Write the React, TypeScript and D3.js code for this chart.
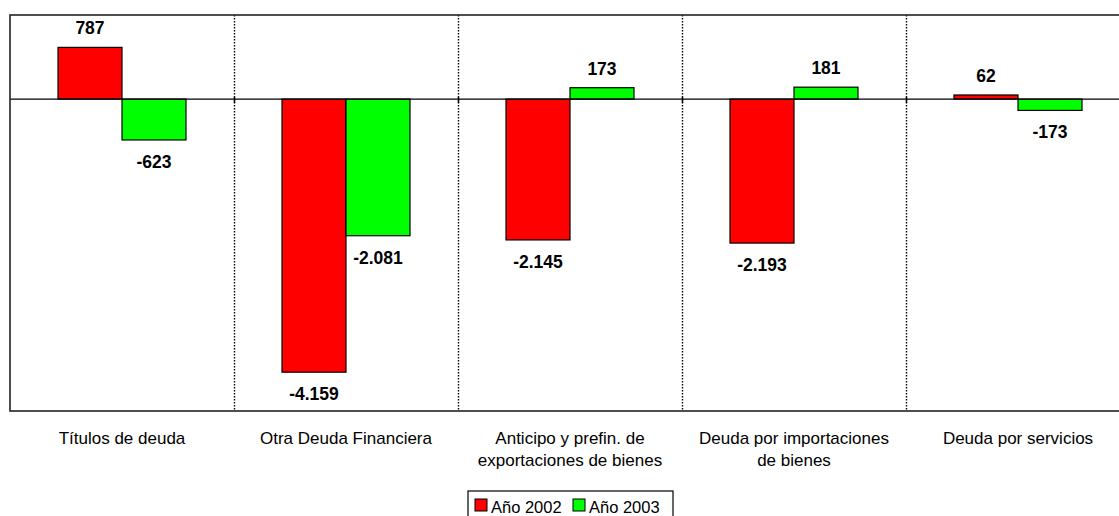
import React from "react";
import * as d3 from "d3";

const categories: string[][] = [
  ["Títulos de deuda"],
  ["Otra Deuda Financiera"],
  ["Anticipo y prefin. de", "exportaciones de bienes"],
  ["Deuda por importaciones", "de bienes"],
  ["Deuda por servicios"],
];
const seriesNames = ["Año 2002", "Año 2003"];
const values2002 = [787, -4159, -2145, -2193, 62];
const values2003 = [-623, -2081, 173, 181, -173];
const colors = ["#FF0000", "#00FF00"];

const fmt = (v: number) => {
  const s = Math.abs(v).toString();
  const withSep = s.replace(/\B(?=(\d{3})+(?!\d))/g, ".");
  return (v < 0 ? "-" : "") + withSep;
};

export default function App() {
  const W = 1119;
  const H = 516;
  const left = 10;
  const catW = 224;
  const right = left + catW * categories.length;
  const top = 15;
  const bottom = 411;

  const x = d3
    .scaleBand<number>()
    .domain(categories.map((_, i) => i))
    .range([left, right])
    .paddingInner(0)
    .paddingOuter(0);
  const inner = d3
    .scaleBand<number>()
    .domain([0, 1])
    .range([0, x.bandwidth()])
    .paddingInner(0)
    .paddingOuter(0.75);
  const y = d3.scaleLinear().domain([-4750, 1280]).range([bottom, top]);
  const y0 = y(0);

  const series = [values2002, values2003];
  const font = "Arial, 'Liberation Sans', sans-serif";

  return (
    <svg
      width={W}
      height={H}
      style={{ position: "absolute", left: 0, top: 0, background: "#fff" }}
    >
      {/* dividers */}
      {categories.slice(1).map((_, i) => {
        const xx = Math.round(x(i + 1)!) + 0.5;
        return (
          <g key={"d" + i}>
            <line
              x1={xx}
              x2={xx}
              y1={top}
              y2={bottom}
              stroke="#000"
              strokeWidth={1.4}
              strokeDasharray="1.5,1.5"
            />
            <line x1={xx} x2={xx} y1={y0 - 2} y2={y0 + 4} stroke="#000" strokeWidth={1.5} />
          </g>
        );
      })}
      {/* bars */}
      {series.map((vals, s) =>
        vals.map((v, i) => {
          const bx = x(i)! + inner(s)!;
          const yTop = v >= 0 ? y(v) : y0;
          const h = Math.abs(y(v) - y0);
          return (
            <rect
              key={`b${s}-${i}`}
              x={bx}
              y={yTop}
              width={inner.bandwidth()}
              height={h}
              fill={colors[s]}
              stroke="#000"
              strokeWidth={1.2}
            />
          );
        })
      )}
      {/* zero line */}
      <line x1={left} x2={right} y1={y0} y2={y0} stroke="#000" strokeWidth={1.2} />
      {/* frame */}
      <rect
        x={left}
        y={top}
        width={right - left}
        height={bottom - top}
        fill="none"
        stroke="#222"
        strokeWidth={1.6}
      />
      {/* data labels */}
      {series.map((vals, s) =>
        vals.map((v, i) => {
          const cx = x(i)! + inner(s)! + inner.bandwidth() / 2;
          const ty = v >= 0 ? y(v) - 13 : y(v) + 28;
          return (
            <text
              key={`l${s}-${i}`}
              x={cx}
              y={ty}
              textAnchor="middle"
              fontFamily={font}
              fontWeight="bold"
              fontSize={17.5}
              fill="#000"
            >
              {fmt(v)}
            </text>
          );
        })
      )}
      {/* category labels */}
      {categories.map((lines, i) => (
        <text
          key={"c" + i}
          x={x(i)! + x.bandwidth() / 2}
          y={444}
          textAnchor="middle"
          fontFamily={font}
          fontSize={17}
          fill="#000"
        >
          {lines.map((ln, j) => (
            <tspan key={j} x={x(i)! + x.bandwidth() / 2} dy={j === 0 ? 0 : 22}>
              {ln}
            </tspan>
          ))}
        </text>
      ))}
      {/* legend */}
      <g>
        <rect x={468} y={491} width={205} height={30} fill="#fff" stroke="#000" strokeWidth={1.2} />
        {seriesNames.map((n, s) => {
          const lx = 475 + s * 98;
          return (
            <g key={"lg" + s}>
              <rect x={lx} y={499} width={12} height={12} fill={colors[s]} stroke="#000" strokeWidth={1} />
              <text x={lx + 16} y={513} fontFamily={font} fontSize={16.5} fill="#000">
                {n}
              </text>
            </g>
          );
        })}
      </g>
    </svg>
  );
}
